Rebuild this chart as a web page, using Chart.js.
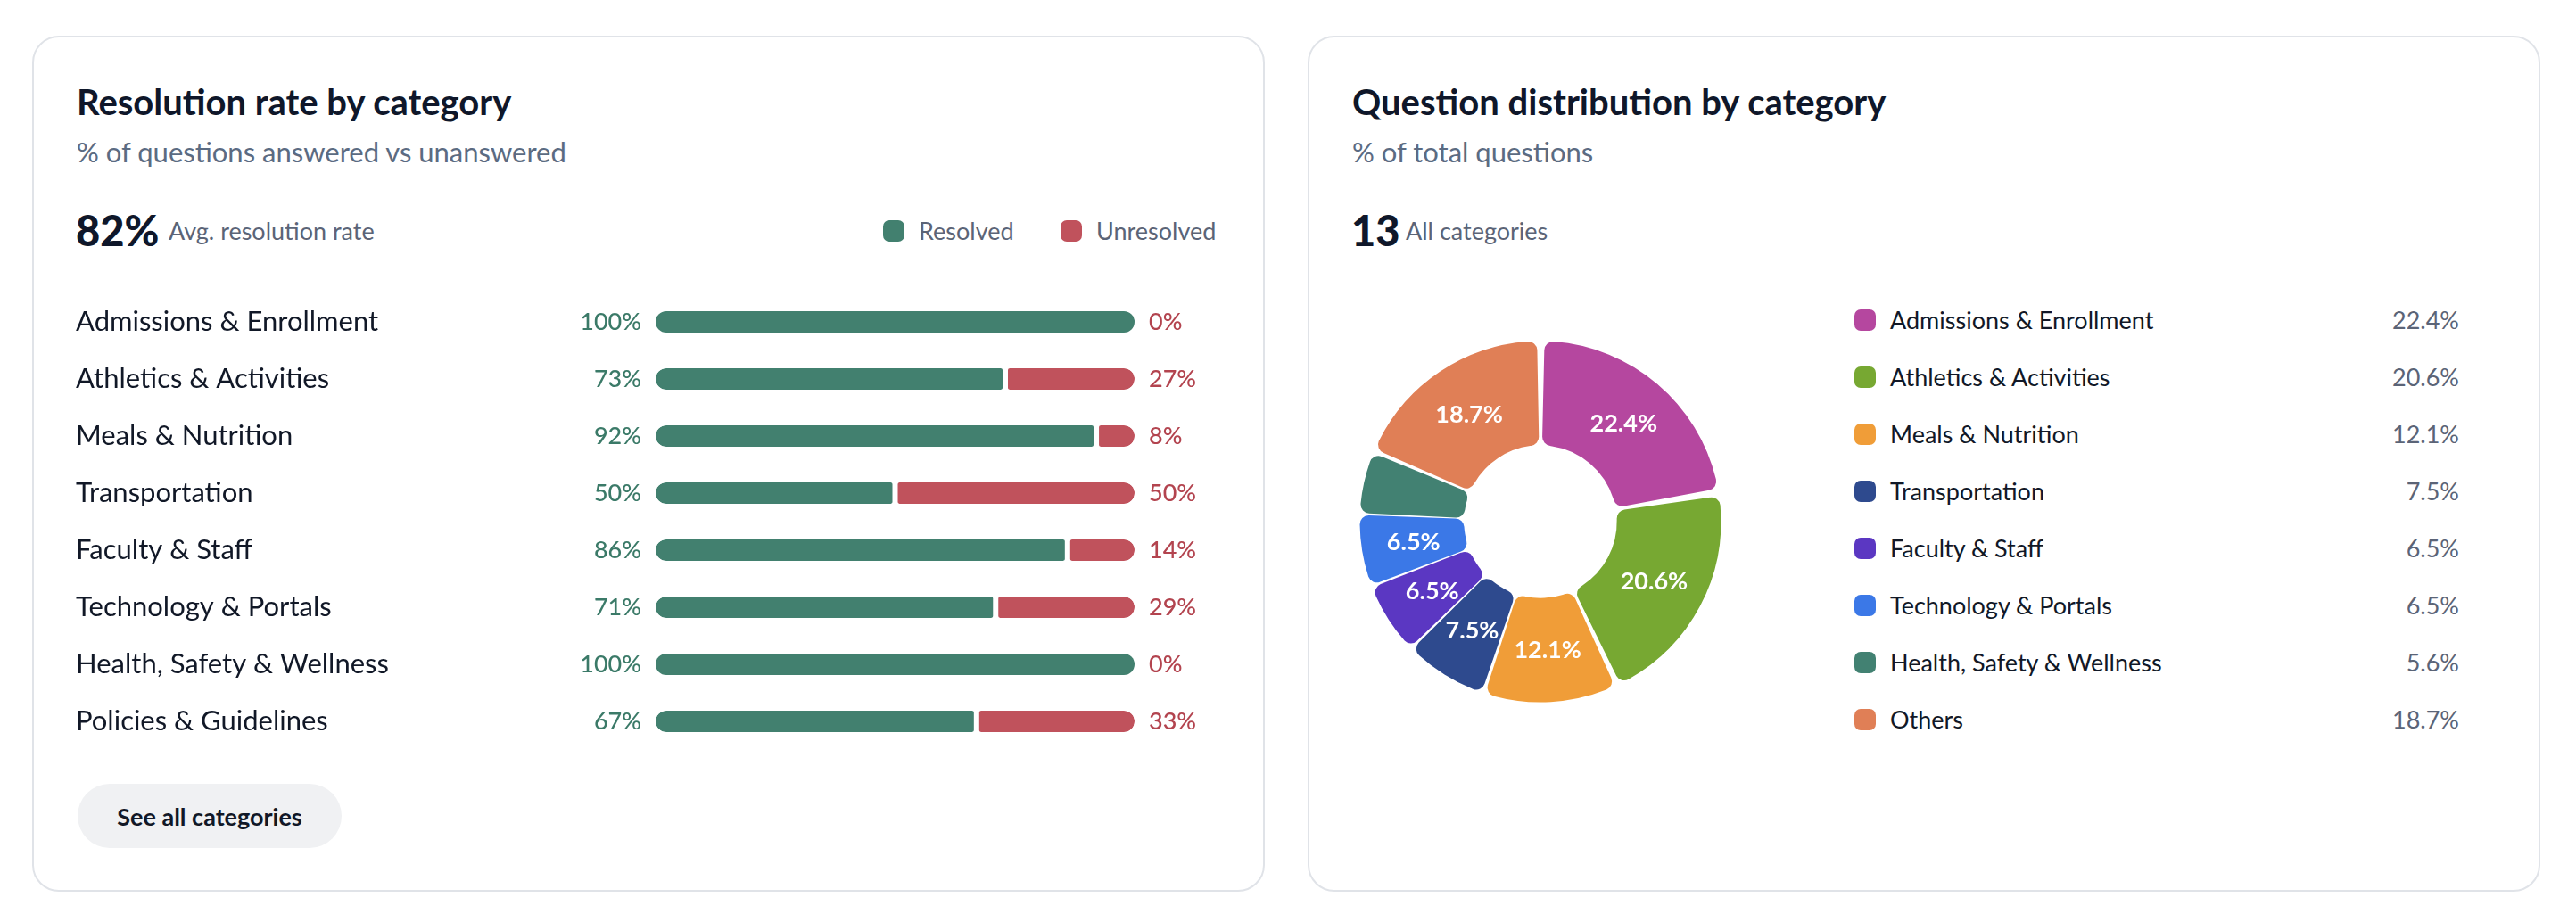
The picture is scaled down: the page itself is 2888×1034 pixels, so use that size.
<!DOCTYPE html>
<html>
<head>
<meta charset="utf-8">
<script src="https://cdn.jsdelivr.net/npm/chart.js@4.4.1/dist/chart.umd.min.js"></script>
<style>
  body { margin: 0; width: 2888px; height: 1034px; background: #fff; font-family: Lato, "Noto Sans", sans-serif; color: #111827; position: relative; overflow: hidden; }
  .card { position: absolute; top: 40px; width: 1382px; height: 960px; border: 2px solid #e0e3e8; border-radius: 30px; box-sizing: border-box; }
  .abs { position: absolute; line-height: 1; white-space: nowrap; }
  .title { font-size: 40px; font-weight: 700; color: #0f172a; }
  .sub { font-size: 31px; color: #5b6b82; }
  .big { font-size: 47px; font-weight: 900; color: #0f172a; }
  .meta { font-size: 27px; color: #5b6477; }
  .sw { position: absolute; width: 24px; height: 24px; border-radius: 7px; }
  .btn { position: absolute; left: 87px; top: 879px; width: 296px; height: 72px; border-radius: 36px; background: #f0f1f3; display: flex; align-items: center; justify-content: center; font-size: 27px; font-weight: 700; color: #111827; }
  canvas { position: absolute; }
</style>
</head>
<body>
<div class="card" style="left:36px"></div>
<div class="card" style="left:1466px"></div>

<div class="abs title" style="left:86px; top:94px">Resolution rate by category</div>
<div class="abs sub" style="left:86px; top:155px">% of questions answered vs unanswered</div>
<div class="abs big" style="left:85px; top:235px">82%</div>
<div class="abs meta" style="left:189px; top:245px">Avg. resolution rate</div>
<div class="sw" style="left:990px; top:247px; background:#42806f"></div>
<div class="abs meta" style="left:1030px; top:245px">Resolved</div>
<div class="sw" style="left:1189px; top:247px; background:#c0525c"></div>
<div class="abs meta" style="left:1229px; top:245px">Unresolved</div>
<canvas id="resBar" width="1285" height="512" style="left:85px; top:329px; width:1285px; height:512px"></canvas>
<div class="btn">See all categories</div>

<div class="abs title" style="left:1516px; top:94px">Question distribution by category</div>
<div class="abs sub" style="left:1516px; top:155px">% of total questions</div>
<div class="abs big" style="left:1515px; top:235px">13</div>
<div class="abs meta" style="left:1576px; top:245px">All categories</div>
<canvas id="distDonut" width="440" height="440" style="left:1507px; top:365px; width:440px; height:440px"></canvas>
<div id="distLegend"></div>

<script>
// Resolution rate (left card)
const resCategories = ['Admissions & Enrollment', 'Athletics & Activities', 'Meals & Nutrition', 'Transportation',
  'Faculty & Staff', 'Technology & Portals', 'Health, Safety & Wellness', 'Policies & Guidelines'];
const resolvedPct = [100, 73, 92, 50, 86, 71, 100, 67];
const unresolvedPct = [0, 27, 8, 50, 14, 29, 0, 33];

// Question distribution (right card)
const distCategories = ['Admissions & Enrollment', 'Athletics & Activities', 'Meals & Nutrition', 'Transportation',
  'Faculty & Staff', 'Technology & Portals', 'Health, Safety & Wellness', 'Others'];
const distPct = [22.4, 20.6, 12.1, 7.5, 6.5, 6.5, 5.6, 18.7];
const distColors = ['#b5479f', '#77a832', '#f09d38', '#2e4a8e', '#5b37c2', '#3b78e7', '#428172', '#e07f56'];

const GREEN = '#42806f', RED = '#c0525c';
const GREEN_TXT = '#3b7a68', RED_TXT = '#b3444f';
const FONT = 'Lato, "Noto Sans", sans-serif';

const barLabels = {
  id: 'barLabels',
  afterDatasetsDraw(chart) {
    const { ctx, chartArea } = chart;
    const meta = chart.getDatasetMeta(0);
    ctx.save();
    ctx.font = '500 27px ' + FONT;
    ctx.textBaseline = 'middle';
    meta.data.forEach((bar, i) => {
      ctx.fillStyle = GREEN_TXT; ctx.textAlign = 'right';
      ctx.fillText(resolvedPct[i] + '%', chartArea.left - 16, bar.y);
      ctx.fillStyle = RED_TXT; ctx.textAlign = 'left';
      ctx.fillText(unresolvedPct[i] + '%', chartArea.right + 16, bar.y);
    });
    ctx.restore();
  }
};

new Chart(document.getElementById('resBar'), {
  type: 'bar',
  data: {
    labels: resCategories,
    datasets: [
      {
        label: 'Resolved', data: resolvedPct, backgroundColor: GREEN, borderColor: '#fff',
        borderWidth: c => ({ top: 0, bottom: 0, left: 0, right: c.raw < 100 ? 3 : 0 }),
        borderRadius: c => c.raw < 100
          ? { topLeft: 12, bottomLeft: 12, topRight: 5, bottomRight: 5 }
          : { topLeft: 12, bottomLeft: 12, topRight: 12, bottomRight: 12 },
        borderSkipped: false, barThickness: 24, inflateAmount: 0
      },
      {
        label: 'Unresolved', data: unresolvedPct, backgroundColor: RED, borderColor: '#fff',
        borderWidth: { top: 0, bottom: 0, left: 3, right: 0 },
        borderRadius: { topLeft: 5, bottomLeft: 5, topRight: 12, bottomRight: 12 },
        borderSkipped: false, barThickness: 24, inflateAmount: 0
      }
    ]
  },
  options: {
    indexAxis: 'y',
    responsive: false,
    animation: false,
    layout: { padding: { right: 98, left: 0, top: 0, bottom: 0 } },
    scales: {
      x: { stacked: true, min: 0, max: 100, display: false },
      y: {
        stacked: true,
        grid: { display: false },
        border: { display: false },
        ticks: { crossAlign: 'far', color: '#111827', font: { family: FONT, size: 31 } },
        // fixed label column, and no extra room above/below the rows
        afterFit: s => { s.width = 650; s.paddingTop = 0; s.paddingBottom = 0; }
      }
    },
    plugins: { legend: { display: false }, tooltip: { enabled: false } }
  },
  plugins: [barLabels]
});

const arcLabels = {
  id: 'arcLabels',
  afterDatasetsDraw(chart) {
    const { ctx } = chart;
    const meta = chart.getDatasetMeta(0);
    ctx.save();
    ctx.font = '700 27px ' + FONT;
    ctx.fillStyle = '#fff';
    ctx.textAlign = 'center';
    ctx.textBaseline = 'middle';
    meta.data.forEach((arc, i) => {
      if (distPct[i] < 6) return;
      const p = arc.tooltipPosition();
      ctx.fillText(distPct[i].toFixed(1) + '%', p.x, p.y);
    });
    ctx.restore();
  }
};

new Chart(document.getElementById('distDonut'), {
  type: 'doughnut',
  data: {
    labels: distCategories,
    datasets: [{ data: distPct, backgroundColor: distColors, borderWidth: 0, spacing: 9, borderRadius: 10 }]
  },
  options: {
    responsive: false,
    animation: false,
    radius: 198,
    cutout: '41%',
    plugins: { legend: { display: false }, tooltip: { enabled: false } }
  },
  plugins: [arcLabels]
});

// Legend list for the doughnut
const legendEl = document.getElementById('distLegend');
distCategories.forEach((name, i) => {
  const y = 347 + i * 64;
  legendEl.insertAdjacentHTML('beforeend',
    `<div class="sw" style="left:2079px; top:${y}px; background:${distColors[i]}"></div>` +
    `<div class="abs meta" style="left:2119px; top:${y - 2}px; color:#111827">${name.replace('&', '&amp;')}</div>` +
    `<div class="abs meta" style="left:2557px; width:200px; text-align:right; top:${y - 2}px">${distPct[i].toFixed(1)}%</div>`);
});
</script>
</body>
</html>
